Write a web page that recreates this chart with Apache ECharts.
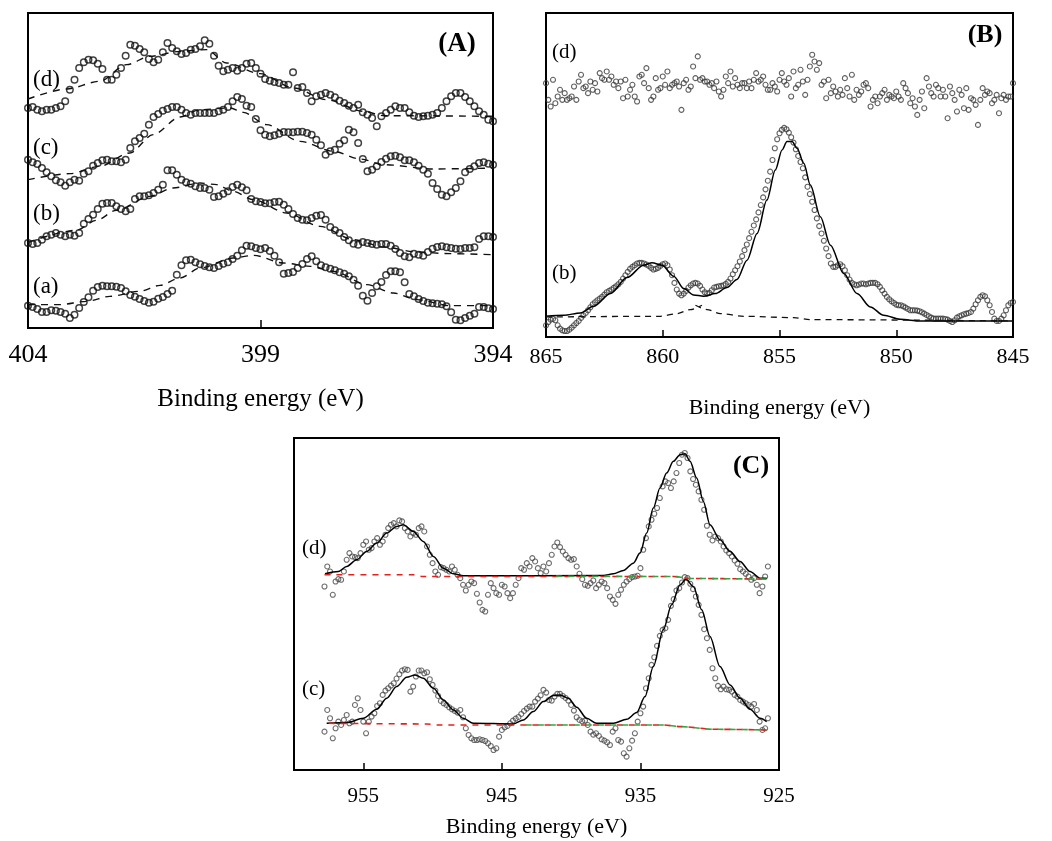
<!DOCTYPE html>
<html>
<head>
<meta charset="utf-8">
<title>XPS N 1s / Ni 2p / Cu 2p</title>
<script src="https://cdn.jsdelivr.net/npm/echarts@6.0.0/dist/echarts.min.js"></script>
<style>
  html, body { margin: 0; padding: 0; background: #fff; }
  #chart { width: 1052px; height: 841px; }
</style>
</head>
<body>
<div id="chart"></div>
<script>
// ---------- panel A (404 -> 394 eV, 0.1 eV step) ----------
const startA = 404
const stepA = 0.1
const a_A = [
  8.2, 7.8, 7.2, 6.3, 6.3, 6.8, 6.7, 6.3, 5.8, 4.5,
  5.5, 7.5, 9.3, 10.7, 12.7, 13.8, 14.2, 14, 14, 13.9,
  13.5, 12.5, 11.4, 10.9, 10.2, 9.6, 9.1, 9.4, 10.3, 10.8,
  11.7, 12.7, 17.5, 20.3, 21.8, 22, 21.2, 20.6, 20.1, 19.7,
  19.5, 20.1, 20.8, 21.2, 22.2, 23.2, 24.8, 26.2, 26, 25.5,
  25.1, 25.5, 24.6, 23.2, 21.2, 17.8, 18, 18.3, 19.5, 20.7,
  22.2, 23, 21.5, 20.3, 19.7, 19.3, 18.8, 18.2, 17.8, 17,
  16, 14.2, 11.2, 9.7, 12, 14, 15.3, 17.4, 18.5, 18.5,
  18.2, 15.2, 11.7, 11, 10.2, 9.6, 9.1, 8.9, 8.8, 8.6,
  8, 6.2, 4, 3.8, 4.5, 5.2, 5.8, 7.8, 7.8, 7.4,
  7.2
]
const b_A = [
  27, 26.7, 27, 28, 29, 29.5, 30, 29.5, 29, 29.5,
  29.2, 30, 32.8, 34.2, 35.5, 37.2, 38.8, 39, 39, 38,
  37.2, 36.5, 37.2, 40.2, 41, 41, 41.3, 42, 43, 44.5,
  48.8, 48.8, 47.5, 46, 45.2, 44.8, 44, 43.5, 43.5, 43,
  40.8, 41, 41.8, 42.5, 43.8, 44.5, 43.7, 42.8, 40.2, 39.5,
  39.3, 38.9, 38.9, 39.3, 39.4, 38.5, 37.2, 35.7, 34.5, 34,
  33.8, 34.5, 35.2, 35.4, 34, 31.8, 30.8, 30, 28.8, 27.8,
  26.8, 26.5, 27.3, 27, 26.7, 26.5, 26.7, 26.7, 26.2, 25.2,
  24, 23, 22.7, 23.8, 23.5, 23.2, 24.3, 25.3, 25.8, 26,
  25.7, 25.5, 25.3, 25.2, 25.5, 25.5, 25.7, 28.2, 29, 29,
  28.8
]
const c_A = [
  52, 51.2, 50.7, 49.5, 48.2, 47, 45.8, 45.2, 44.2, 45.2,
  46, 45.7, 47.8, 48.5, 50.2, 51, 51.8, 52, 51.5, 51.5,
  51.2, 52, 55.5, 57.5, 58.5, 59.8, 62.5, 64.8, 65.7, 66.7,
  67.2, 67.8, 67.8, 67, 66, 65.5, 66, 66, 66, 66,
  66, 66.5, 67, 67.8, 69.5, 70.8, 70.2, 68.2, 67.8, 64.2,
  60.8, 59.5, 59, 59.3, 59.8, 60.3, 60.2, 60.2, 60.4, 60.4,
  60, 59.5, 58, 56.3, 53.5, 54.5, 55, 56.8, 57.8, 61,
  60.2, 57, 52.2, 48.5, 49, 50, 51.3, 52.3, 53, 53.2,
  52.7, 51.8, 51.8, 51.2, 50.2, 49, 47.8, 45, 43.2, 41.5,
  41, 42.2, 43.5, 45.5, 48.2, 49.2, 50, 51, 51.2, 50.8,
  50.5
]
const d_A = [
  67.5, 67.8, 67, 66.5, 67, 67, 67.5, 68, 69.5, 73,
  76, 79.5, 81.2, 82, 81.8, 80.8, 79.2, 76, 76, 77.5,
  79.5, 83.2, 86.5, 86.2, 85.2, 84.2, 82.2, 81.2, 82, 84.2,
  87, 85.5, 84.5, 83.7, 84, 85, 85.2, 86, 87.8, 86.8,
  83.2, 80.2, 78.5, 79, 79.5, 78.7, 79.5, 80.8, 81, 79.5,
  77.8, 76.2, 75.7, 75.3, 75, 74.5, 74.5, 78.2, 73.5, 73.8,
  72, 69.5, 71, 71.5, 72, 71.5, 70.7, 69.7, 69, 68.2,
  67.5, 68.5, 66.2, 65.5, 64.5, 62, 65, 66, 67, 68,
  67.5, 67.5, 66.2, 65.2, 64.8, 65, 65.2, 65.5, 66, 67.5,
  69.5, 71, 72, 72, 70.8, 69.5, 68, 66.5, 65.5, 64,
  63.5
]
// dashed envelopes, [eV, intensity]
const dashA_a = [[404, 8.5], [403.32, 8.5], [402.74, 9.5], [402.24, 11], [401.6, 12.5], [401.16, 14.3], [400.73, 16.5], [400.3, 19.5], [399.59, 22.5], [399.15, 23.3], [398.51, 21], [397.93, 20], [397.43, 18.5], [396.71, 14.5], [396.14, 12], [395.64, 10], [394.92, 8.2], [394, 8.2]]
const dashA_b = [[404, 27.2], [402.96, 30.8], [402.53, 33.8], [402.1, 36.8], [401.38, 41], [400.88, 43.5], [400.3, 45], [399.94, 44.5], [399.59, 42.5], [399.15, 40], [398.44, 36], [397.72, 32], [397, 28], [396.35, 25.8], [395.64, 24.3], [394.92, 23.8], [394, 23.5]]
const dashA_c = [[404, 46], [403.1, 47.8], [402.46, 50], [401.81, 54], [401.31, 59.5], [400.73, 64.8], [400.3, 67], [399.66, 67.5], [399.37, 66.2], [398.87, 62.5], [398.15, 57.5], [397.43, 54.5], [396.86, 52.2], [396.35, 50.5], [395.28, 49.2], [394, 49.5]]
const dashA_d = [[404, 70.2], [403.17, 73.2], [402.46, 75.5], [401.88, 80.5], [401.38, 83], [400.73, 84.5], [400.16, 85], [399.73, 81], [399.01, 77.8], [398.29, 73.5], [397.58, 70], [396.79, 66.5], [396.35, 65.2], [394, 65]]

// ---------- panel B (865 -> 845 eV, 0.1 eV step) ----------
const startB = 865
const stepB = 0.1
const d_B = [
  75, 70, 68, 76, 69, 71, 73, 70, 72, 70,
  70.5, 71, 74, 70, 75.5, 77.5, 73.5, 74, 72, 75.5,
  73, 75, 72.5, 78, 76.5, 76, 78.5, 76, 77, 74.5,
  75.5, 73.5, 75.5, 70.5, 76, 71, 73, 74.5, 71, 69.5,
  77, 77.5, 75, 79.5, 73.5, 70, 71, 76.5, 73, 73.5,
  77, 74.5, 78.5, 73.5, 74.5, 75, 75.5, 74, 67, 75,
  76, 73, 74, 80, 76.5, 83, 76, 76.5, 75.5, 75.5,
  74.5, 75, 73.5, 75.5, 72.5, 71, 73, 77, 75, 78.5,
  74, 76.5, 74.5, 73.5, 75, 75, 73.5, 75.5, 73.5, 76,
  78, 75.5, 76, 77, 74.5, 73, 73, 75, 74, 72.5,
  76, 78, 75.5, 74.5, 76.5, 71, 78.5, 73.5, 74.5, 79,
  75.5, 71.5, 76, 80, 83.5, 81.5, 79, 81, 74.5, 75.5,
  70.5, 76, 72, 74, 72.5, 71, 73, 71.5, 76.5, 73.5,
  71, 77.5, 70, 73, 71.5, 72.5, 74.5, 75, 73.5, 68,
  70, 71, 69, 71, 72, 73, 70, 71.5, 71, 70.5,
  72.5, 71, 70, 75, 73.5, 72, 69, 70.5, 68, 65.5,
  70, 72.5, 67.5, 76.5, 74, 72, 71, 74.5, 73.5, 71,
  73, 71, 64.5, 74, 72, 70, 66.5, 73, 71.5, 67.5,
  73.5, 67, 70.5, 70, 68.5, 62.5, 70, 73.5, 71.5, 72.5,
  72, 69, 70, 71.5, 66, 70.5, 71.5, 70, 71, 71,
  75
]
const b_B = [
  2.5, 3.5, 4.2, 4.4, 4, 2.5, 1.5, 1, 0.8, 0.8,
  1.2, 1.8, 2.5, 3.2, 3.8, 4.7, 5.5, 6.2, 7, 7.9,
  8.8, 9.4, 10, 10.5, 11, 11.7, 12.4, 12.8, 13.2, 13.7,
  14.2, 14.8, 15.5, 16.5, 17.5, 18.5, 19.4, 20, 20.5, 21,
  21.2, 21.2, 21, 20.7, 20.3, 19.7, 19.2, 19.4, 19.7, 20.3,
  20.8, 21, 20.5, 19.2, 17.5, 15.2, 13.2, 12, 11.5, 12,
  12.8, 13.8, 14.5, 15, 15.2, 15, 14.3, 13.2, 12.4, 12,
  12.2, 13, 13.8, 14, 14.2, 14.3, 14.5, 14.9, 15.5, 16.5,
  17.8, 19, 20.2, 21.6, 23.2, 25, 26.7, 28.6, 30.5, 32.4,
  34.2, 36.3, 38.5, 40.8, 43.2, 45.8, 48.5, 52, 55.5, 58.2,
  60, 61, 61.6, 61.2, 60.2, 58.8, 57.2, 55.2, 53.2, 51.4,
  49.5, 46.8, 44, 41.8, 39.5, 37, 34.5, 32.2, 30, 27.8,
  25.5, 23.2, 21, 20, 20, 20.5, 20.8, 20.2, 19, 17.5,
  16.2, 15.2, 14.8, 14.5, 14.7, 15, 15, 14.8, 15, 15.2,
  15.2, 15.2, 14.8, 14, 13, 12, 11, 10.3, 9.7, 9.2,
  8.7, 8.5, 8.5, 8.2, 7.8, 7.4, 7, 7, 7, 6.9,
  6.7, 6.4, 6, 5.6, 5.2, 4.8, 4.5, 4.5, 4.5, 4.5,
  4.5, 4.4, 4.2, 3.8, 3.5, 4, 4.8, 5.2, 5.5, 5.8,
  6, 6.2, 6.5, 7.5, 8.8, 10, 11, 11.5, 11.2, 10,
  8.5, 6.5, 4.5, 3.8, 3.8, 4.5, 5.5, 7, 8.5, 9.2,
  9.5
]
const fitB = [[865, 5.2], [864.24, 5.5], [863.53, 6.2], [862.96, 8.2], [862.24, 12], [861.53, 16.8], [860.82, 20.5], [860.46, 21.2], [860.03, 20.5], [859.53, 17.2], [859.1, 13.5], [858.68, 11.6], [858.25, 11.2], [857.75, 12], [857.25, 13.8], [856.82, 16.2], [856.39, 22], [855.96, 30], [855.54, 40], [855.18, 49], [854.89, 55], [854.68, 57.5], [854.46, 57.5], [854.25, 55.5], [853.96, 51], [853.68, 44.5], [853.25, 35], [852.82, 26.5], [852.25, 18], [851.68, 12], [851.11, 8], [850.54, 5.5], [849.83, 4.3], [848.97, 3.8], [845, 3.8]]
const baseB_left = [[865, 5], [860.1, 5.2], [859.39, 6], [858.82, 7.2], [858.32, 8.5]]
const baseB_right = [[858.6, 8.5], [858.1, 7.2], [857.53, 6], [856.53, 5.2], [854.39, 4.8], [853.68, 4.2], [845, 3.8]]

// ---------- panel C (957.8 -> 925.8 eV, 0.2 eV step) ----------
const startC = 957.8
const stepC = 0.2
const d_C = [
  50, 56, 54.5, 47.5, 51.5, 52.2, 52, 54.5, 58, 60,
  59, 58.8, 58.5, 60, 62.5, 63.5, 61, 61.5, 63.5, 64.5,
  62.5, 63.5, 65.5, 67.5, 68.5, 69, 68, 69.8, 69.5, 67.5,
  66.5, 65, 66, 65.5, 67.5, 68, 66.5, 62, 59.5, 57,
  54.5, 53.5, 55.8, 55.5, 55, 54.5, 56, 55, 53.5, 52.5,
  50.5, 48.8, 50.5, 51.5, 51, 47.8, 45.2, 43, 42.5, 47.5,
  51, 49.5, 48, 47.5, 50.5, 50, 48, 46.5, 48, 50.5,
  52.5, 55.5, 55, 57, 56, 58.5, 57.5, 55.5, 54, 56,
  54.5, 57, 59.5, 62, 63.2, 61.8, 60.5, 59.5, 58.5, 58,
  58.2, 56, 53.8, 52.2, 50.5, 50.2, 51, 51.8, 49.5, 50.5,
  51.5, 51, 49.5, 47, 46, 44.8, 47.5, 49, 50.5, 51.5,
  52.2, 52.8, 53, 53.2, 55.5, 61, 64.5, 68, 70, 71.8,
  73.5, 76.5, 80, 81.5, 81, 79.5, 81.5, 84, 87, 89.5,
  90, 88.5, 84.5, 82.2, 80.5, 78.5, 76, 73, 68.2, 65.5,
  63.8, 65, 64.5, 63.5, 62, 60.8, 60, 59, 57.8, 56.8,
  55.2, 54.5, 53.8, 53, 52, 52.5, 50.5, 48, 50, 53,
  56
]
const c_C = [
  6.5, 13, 10.5, 4.5, 7.5, 9.5, 8.5, 10, 11.5, 9,
  9.5, 14.5, 16.5, 13, 9.5, 6, 9.5, 11, 12, 14.2,
  15, 17.5, 18.8, 19.5, 20.3, 21, 22.4, 23.7, 24.8, 25.2,
  25, 18.5, 20, 23, 24.8, 24.8, 24, 24.3, 22.2, 20.5,
  18.8, 17.2, 15.7, 15, 14.5, 13.8, 13.2, 12.7, 12.2, 13,
  10.8, 7.5, 5.5, 4.5, 4, 4, 4.2, 4, 3.7, 3,
  2.2, 1, 1.5, 5, 7, 7.8, 8.2, 9, 9.8, 10.4,
  10.9, 11.8, 12.7, 13.4, 14, 14, 15.5, 16.4, 17.4, 19,
  18.2, 16, 15.8, 17, 17.8, 17.8, 17.2, 16.6, 15.8, 14.5,
  12.8, 10.8, 10, 9.6, 9.8, 8.5, 6.5, 5.6, 6, 5.2,
  4.2, 3.8, 3.3, 2.5, 6.5, 7.5, 4, 3.5, 0, -1,
  1.5, 3.8, 6, 9.5, 12, 14, 19.5, 22.5, 26.5, 28.8,
  32.2, 35.2, 37, 37.5, 40, 44.2, 46.2, 48.8, 49.5, 51.2,
  52.8, 52.5, 50.8, 49.2, 47, 44.5, 41.5, 37.2, 34.5, 31,
  25.5, 22.5, 20.2, 19.2, 20, 19.2, 19, 18.5, 17.5, 17,
  16, 15.5, 15, 14.5, 14, 14.8, 13, 9.5, 7, 7.5,
  10.5
]
const fitC_d = [[957.76, 53.8], [956.8, 54.5], [956.2, 56], [955.48, 58], [954.76, 60.5], [954.03, 63], [953.31, 66], [952.59, 68], [952.11, 68.5], [951.39, 66.5], [950.67, 63.5], [949.94, 59], [949.22, 55.5], [948.5, 53.8], [947.78, 53.2], [937.68, 53.3], [936.95, 53.8], [936.23, 54.8], [935.51, 57], [935.03, 60], [934.55, 66], [934.07, 73.5], [933.59, 79.5], [933.11, 84], [932.62, 87.5], [932.14, 89.5], [931.78, 89.8], [931.42, 87.5], [930.94, 82.5], [930.46, 75.5], [929.98, 68.5], [929.26, 64], [928.53, 60.5], [927.81, 57.5], [927.09, 54.5], [926.37, 52.5], [925.89, 52.5]]
const fitC_c = [[957.64, 9], [956.2, 9.2], [955, 10.5], [954.03, 13.2], [953.31, 16.5], [952.59, 20], [951.87, 22.8], [951.27, 23.5], [950.67, 22.5], [949.94, 19.5], [949.22, 16], [948.5, 13], [947.78, 10.5], [947.06, 9], [944.17, 8.8], [943.45, 10], [942.73, 12.5], [942.01, 15.5], [941.28, 17.3], [940.8, 17.5], [940.2, 16.5], [939.6, 13.8], [938.88, 10.5], [938.16, 9], [936.95, 9], [935.99, 10.2], [935.27, 12.2], [934.67, 17], [934.07, 26], [933.35, 37], [932.75, 44.5], [932.14, 50.5], [931.71, 52.2], [931.18, 50], [930.58, 43], [929.98, 35], [929.26, 26], [928.53, 20.5], [927.81, 16.5], [927.09, 13.2], [926.37, 10.5], [925.89, 9.5]]
const baseC_d_red = [[957.8, 53.5], [951.4, 53.5], [950.7, 53], [932.6, 53], [931.4, 52.4], [925.9, 52.2]]
const baseC_d_green = [[941.5, 53.1], [932.6, 53], [931.4, 52.4], [925.9, 52.2]]
const baseC_c_red = [[957.5, 9], [950.4, 8.8], [949.7, 8.5], [933.4, 8.5], [932.1, 8], [929.7, 7.2], [925.9, 7]]
const baseC_c_green = [[943.7, 8.5], [933.4, 8.5], [932.1, 8], [929.7, 7.2], [925.9, 7]]

const FONT = 'Liberation Serif'

// pair intensities with their energy grid
const withEnergy = (ys, start, step) => ys.map((y, i) => [+(start - i * step).toFixed(2), y])

const scatter = (idx, ys, start, step, size, color, bw) => ({
  type: 'scatter',
  xAxisIndex: idx,
  yAxisIndex: idx,
  data: withEnergy(ys, start, step),
  symbol: 'circle',
  symbolSize: size,
  itemStyle: { color: 'rgba(255,255,255,0)', borderColor: color, borderWidth: bw },
  silent: true
})

const curve = (idx, data, color, type, width, z, dashOffset) => ({
  type: 'line',
  xAxisIndex: idx,
  yAxisIndex: idx,
  data,
  symbol: 'none',
  smooth: 0.3,
  smoothMonotone: 'x',
  lineStyle: { color, width, type, dashOffset: dashOffset || 0 },
  z: z || 2,
  silent: true
})

const xAxisBase = (idx, min, max, fontSize, margin, nameGap, nameSize) => ({
  gridIndex: idx,
  type: 'value',
  min,
  max,
  inverse: true,
  axisLine: { show: true, onZero: false, lineStyle: { color: '#000', width: 2 } },
  axisTick: { show: true, inside: true, length: 7, lineStyle: { color: '#000', width: 1.5 } },
  axisLabel: { color: '#000', fontFamily: FONT, fontSize, margin, showMinLabel: true, showMaxLabel: true },
  splitLine: { show: false },
  name: 'Binding energy (eV)',
  nameLocation: 'middle',
  nameGap,
  nameTextStyle: { color: '#000', fontFamily: FONT, fontSize: nameSize }
})

const txt = (x, y, text, size, bold) => ({
  type: 'text',
  x,
  y,
  z: 100,
  style: {
    text,
    font: (bold ? 'bold ' : '') + size + 'px "' + FONT + '"',
    fill: '#000',
    align: bold ? 'center' : 'left',
    verticalAlign: 'middle'
  }
})

const chart = echarts.init(document.getElementById('chart'))

const xA = xAxisBase(0, 394, 404, 26, 14, 59, 25)
xA.axisLabel.customValues = [394, 399, 404]
xA.axisTick.customValues = [399]
xA.axisTick.length = 8

const xB = xAxisBase(1, 845, 865, 22, 9, 60, 22)
xB.interval = 5

const xC = xAxisBase(2, 925, 960, 21, 16, 46, 22)
xC.axisLabel.customValues = [925, 935, 945, 955]
xC.axisTick.customValues = [925, 935, 945, 955]

chart.setOption({
  animation: false,
  backgroundColor: '#fff',
  grid: [
    { left: 28, top: 13, width: 465, height: 315, show: true, borderColor: '#000', borderWidth: 2 },
    { left: 546, top: 13, width: 467, height: 324, show: true, borderColor: '#000', borderWidth: 2 },
    { left: 294, top: 438, width: 485, height: 332, show: true, borderColor: '#000', borderWidth: 2 }
  ],
  xAxis: [xA, xB, xC],
  yAxis: [
    { gridIndex: 0, type: 'value', min: 1.5, max: 96, show: false },
    { gridIndex: 1, type: 'value', min: -1, max: 96, show: false },
    { gridIndex: 2, type: 'value', min: -5, max: 94.5, show: false }
  ],
  series: [
    // A
    curve(0, dashA_a, '#111', [7, 6], 1.4),
    curve(0, dashA_b, '#111', [7, 6], 1.4),
    curve(0, dashA_c, '#111', [7, 6], 1.4),
    curve(0, dashA_d, '#111', [7, 6], 1.4),
    scatter(0, a_A, startA, stepA, 6.5, '#111', 1.5),
    scatter(0, b_A, startA, stepA, 6.5, '#111', 1.5),
    scatter(0, c_A, startA, stepA, 6.5, '#111', 1.5),
    scatter(0, d_A, startA, stepA, 6.5, '#111', 1.5),
    // B
    scatter(1, d_B, startB, stepB, 5, '#3a3a3a', 1.1),
    scatter(1, b_B, startB, stepB, 5, '#3a3a3a', 1.1),
    curve(1, fitB, '#000', 'solid', 1.5, 3),
    curve(1, baseB_left, '#111', [6, 5], 1.3, 3),
    curve(1, baseB_right, '#111', [6, 5], 1.3, 3),
    // C
    scatter(2, d_C, startC, stepC, 5, '#4a4a4a', 1.1),
    scatter(2, c_C, startC, stepC, 5, '#4a4a4a', 1.1),
    curve(2, fitC_d, '#000', 'solid', 1.5, 3),
    curve(2, fitC_c, '#000', 'solid', 1.5, 3),
    curve(2, baseC_d_red, '#e3221b', [6, 6], 1.6, 4),
    curve(2, baseC_c_red, '#e3221b', [6, 6], 1.6, 4),
    // green dashes offset so they sit in the gaps of the red ones
    curve(2, baseC_d_green, '#3aa245', [6, 6], 1.6, 5, 6),
    curve(2, baseC_c_green, '#3aa245', [6, 6], 1.6, 5, 6)
  ],
  graphic: [
    txt(457, 44, '(A)', 27, true),
    txt(33, 80, '(d)', 23),
    txt(33, 148, '(c)', 23),
    txt(33, 214, '(b)', 23),
    txt(33, 287, '(a)', 23),
    txt(985, 35, '(B)', 26, true),
    txt(552, 52, '(d)', 21),
    txt(552, 273, '(b)', 21),
    txt(751, 466, '(C)', 26, true),
    txt(302, 548, '(d)', 21),
    txt(302, 689, '(c)', 21)
  ]
})
</script>
</body>
</html>
